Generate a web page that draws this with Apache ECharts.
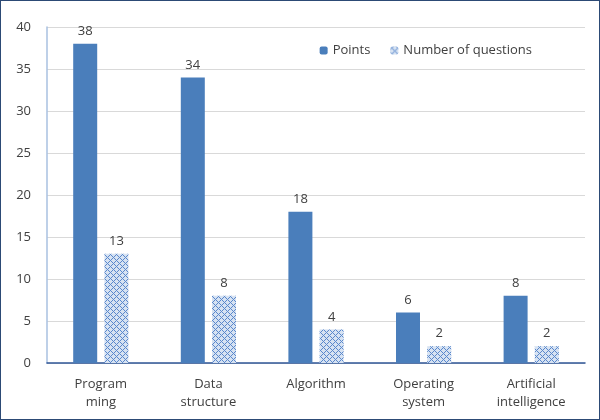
<!DOCTYPE html>
<html>
<head>
<meta charset="utf-8">
<script src="https://cdn.jsdelivr.net/npm/echarts@6/dist/echarts.min.js"></script>
<style>
  html, body { margin: 0; padding: 0; background: #fff; }
  #chart {
    width: 600px;
    height: 420px;
    box-sizing: border-box;
    border: 1px solid #2c4a75;
  }
</style>
</head>
<body>
<div id="chart"></div>
<script>
const categories = ["Program\nming", "Data\nstructure", "Algorithm", "Operating\nsystem", "Artificial\nintelligence"];
const points = [38, 34, 18, 6, 8];
const questions = [13, 8, 4, 2, 2];

// 小点阵纹理，用于 "Number of questions"
function makePattern() {
  const c = document.createElement("canvas");
  c.width = 6;
  c.height = 6;
  const ctx = c.getContext("2d");
  ctx.fillStyle = "#d6e2f2";
  ctx.fillRect(0, 0, 6, 6);
  ctx.fillStyle = "#5a88cc";
  const dots = [[0, 0], [2, 0], [1, 1], [0, 2], [2, 2]];
  dots.forEach(([x, y]) => {
    ctx.fillRect(x, y, 1, 1);
    ctx.fillRect(x + 3, y + 3, 1, 1);
  });
  return c;
}

const font = "'Open Sans', 'Noto Sans', sans-serif";
const textColor = "#404040";

const chart = echarts.init(document.getElementById("chart"));
chart.setOption({
  animation: false,
  textStyle: { fontFamily: font },
  grid: { left: 46, right: 14, top: 26, bottom: 56 },
  legend: {
    top: 38,
    right: 62,
    itemWidth: 8,
    itemHeight: 8,
    itemGap: 20,
    textStyle: { color: textColor, fontSize: 13, fontFamily: font },
    data: ["Points", "Number of questions"]
  },
  xAxis: {
    type: "category",
    data: categories,
    axisLine: { lineStyle: { color: "#2f5597", width: 1.5 } },
    axisTick: { show: false },
    axisLabel: {
      color: textColor,
      fontSize: 13,
      lineHeight: 18,
      margin: 12,
      interval: 0
    }
  },
  yAxis: {
    type: "value",
    min: 0,
    max: 40,
    interval: 5,
    axisLine: { show: true, lineStyle: { color: "#a9c1e0", width: 1.5 } },
    axisTick: { show: false },
    axisLabel: { color: textColor, fontSize: 13, margin: 16 },
    splitLine: { lineStyle: { color: "#d9d9d9" } }
  },
  series: [
    {
      name: "Points",
      type: "bar",
      data: points,
      barWidth: 24,
      barGap: "30%",
      itemStyle: { color: "#4a7ebb" },
      label: { show: true, position: "top", distance: 6, color: textColor, fontSize: 13 }
    },
    {
      name: "Number of questions",
      type: "bar",
      data: questions,
      barWidth: 24,
      itemStyle: { color: { image: makePattern(), repeat: "repeat" } },
      label: { show: true, position: "top", distance: 6, color: textColor, fontSize: 13 }
    }
  ]
});
</script>
</body>
</html>
